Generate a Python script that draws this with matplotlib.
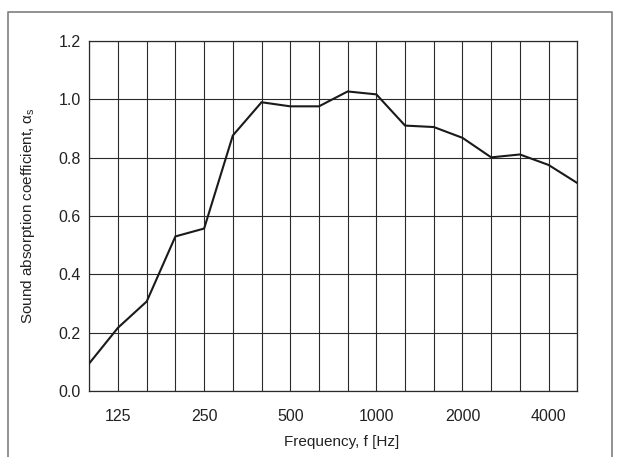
import numpy as np
import matplotlib
matplotlib.use('Agg')
import matplotlib.pyplot as plt
from matplotlib.lines import Line2D

plt.rcParams['font.family'] = ['Liberation Sans', 'DejaVu Sans']

# 1/3 octave bands, 100 Hz - 5000 Hz
bands = [100, 125, 160, 200, 250, 315, 400, 500, 630, 800,
         1000, 1250, 1600, 2000, 2500, 3150, 4000, 5000]
alpha_s = [0.095, 0.217, 0.307, 0.53, 0.557, 0.876, 0.99, 0.976, 0.976, 1.027,
           1.017, 0.91, 0.905, 0.868, 0.801, 0.811, 0.775, 0.713]
labelled = [125, 250, 500, 1000, 2000, 4000]
y_ticks = [0.0, 0.2, 0.4, 0.6, 0.8, 1.0, 1.2]

fig = plt.figure(figsize=(6.2, 4.57), dpi=100)
ax = fig.add_axes([89.3 / 620, 66 / 457, 488 / 620, 350 / 457])

pos = np.arange(len(bands))
ax.plot(pos, alpha_s, color='#1a1a1a', lw=1.5, solid_joinstyle='miter', zorder=3)

ax.set_xlim(0, len(bands) - 1)
ax.set_ylim(0, 1.2)
ax.set_xticks(pos)
ax.set_xticklabels([str(b) if b in labelled else '' for b in bands])
ax.set_yticks(y_ticks)
ax.set_yticklabels([f'{v:.1f}' for v in y_ticks])
ax.tick_params(axis='both', length=0, labelsize=11.5, colors='#222222')
ax.tick_params(axis='x', pad=13)
ax.tick_params(axis='y', pad=6)

ax.grid(True, color='#2a2a2a', lw=0.8)
ax.set_axisbelow(True)
for s in ax.spines.values():
    s.set_color('#2a2a2a')
    s.set_linewidth(0.9)

ax.set_xlabel('Frequency, f [Hz]', fontsize=11, color='#222222')
ax.xaxis.set_label_coords((342 - 89.3) / 488, -(435 - 391) / 350)
ax.set_ylabel('Sound absorption coefficient, α$_\\mathregular{s}$', fontsize=11, color='#222222')
ax.yaxis.set_label_coords(-(89.3 - 37) / 488, 0.5)

# outer frame (open at the bottom)
W, H = 620, 457
fx = [8 / W, 8 / W, 612 / W, 612 / W]
fy = [0, (H - 12) / H, (H - 12) / H, 0]
fig.add_artist(Line2D(fx, fy, transform=fig.transFigure, color='#7f7f7f', lw=1.2))

fig.savefig('out.png', dpi=100)
